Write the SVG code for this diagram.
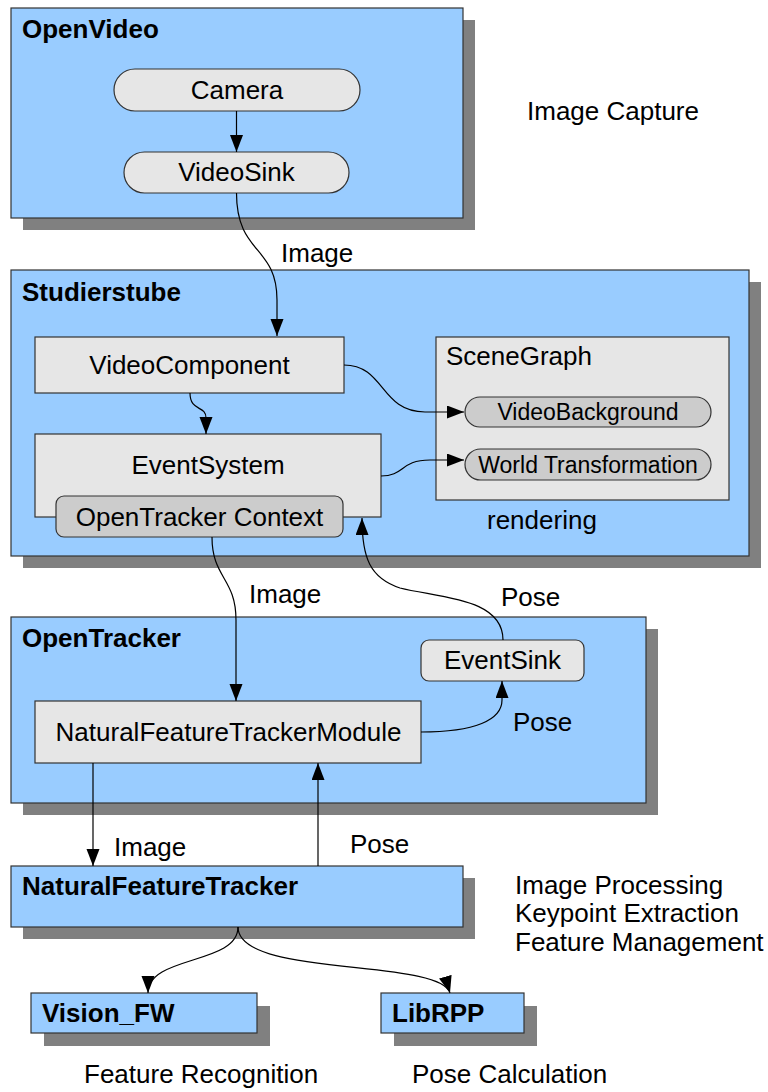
<svg xmlns="http://www.w3.org/2000/svg" width="768" height="1092" viewBox="0 0 768 1092">
<style>
.shadow{fill:#808080;}
.group{fill:#99ccff;stroke:#333333;stroke-width:1.2;}
.node{fill:#e6e6e6;stroke:#333333;stroke-width:1.2;}
.dark{fill:#cccccc;stroke:#333333;stroke-width:1.2;}
.title{font-family:"Liberation Sans",Arial,sans-serif;font-weight:bold;font-size:26px;fill:#000;}
.t{font-family:"Liberation Sans",Arial,sans-serif;font-size:26px;fill:#000;}
.tc{font-family:"Liberation Sans",Arial,sans-serif;font-size:26px;fill:#000;text-anchor:middle;}
.ts{font-family:"Liberation Sans",Arial,sans-serif;font-size:23px;fill:#000;text-anchor:middle;}
.conn{fill:none;stroke:#000;stroke-width:1.2;marker-end:url(#arrow);}
</style>
<defs>
<marker id="arrow" markerUnits="userSpaceOnUse" markerWidth="18" markerHeight="14" refX="17" refY="6.5" orient="auto">
<path d="M0,0 L17,6.5 L0,13 z" fill="#000"/>
</marker>
</defs>
<rect width="768" height="1092" fill="#ffffff"/>

<g id="OpenVideo">
<rect class="shadow" x="23" y="20" width="452" height="210"/>
<rect class="group" x="11" y="8" width="452" height="210"/>
<text class="title" x="22" y="38">OpenVideo</text>
</g>
<g id="Camera">
<rect class="node" x="114" y="69" width="246" height="42" rx="21"/>
<text class="tc" x="237" y="99">Camera</text>
</g>
<g id="VideoSink">
<rect class="node" x="124" y="152" width="225" height="41" rx="20.5"/>
<text class="tc" x="236.5" y="181">VideoSink</text>
</g>
<text class="t" x="527" y="120">Image Capture</text>

<g id="Studierstube">
<rect class="shadow" x="23" y="282" width="738" height="286"/>
<rect class="group" x="11" y="270" width="738" height="286"/>
<text class="title" x="22" y="301">Studierstube</text>
</g>
<g id="VideoComponent">
<rect class="node" x="35" y="337" width="309" height="56"/>
<text class="tc" x="189.5" y="374">VideoComponent</text>
</g>
<g id="SceneGraph">
<rect class="node" x="436" y="337" width="293" height="163"/>
<text class="t" x="446" y="365">SceneGraph</text>
</g>
<g id="VideoBackground">
<rect class="dark" x="465" y="397" width="246" height="30" rx="15"/>
<text class="ts" x="588" y="420">VideoBackground</text>
</g>
<g id="WorldTransformation">
<rect class="dark" x="465" y="449" width="246" height="31" rx="15.5"/>
<text class="ts" x="588" y="473">World Transformation</text>
</g>
<g id="EventSystem">
<rect class="node" x="35" y="434" width="346" height="83"/>
<text class="tc" x="208" y="474">EventSystem</text>
</g>
<g id="OpenTrackerContext">
<rect class="dark" x="56" y="496" width="287" height="41" rx="8"/>
<text class="tc" x="199.5" y="526">OpenTracker Context</text>
</g>
<text class="t" x="487" y="529">rendering</text>

<g id="OpenTracker">
<rect class="shadow" x="23" y="629" width="635" height="186"/>
<rect class="group" x="11" y="617" width="635" height="186"/>
<text class="title" x="22" y="647">OpenTracker</text>
</g>
<g id="EventSink">
<rect class="node" x="421" y="640" width="163" height="41" rx="8"/>
<text class="tc" x="502.5" y="669">EventSink</text>
</g>
<g id="NaturalFeatureTrackerModule">
<rect class="node" x="35" y="701" width="386" height="62"/>
<text class="tc" x="228.5" y="741">NaturalFeatureTrackerModule</text>
</g>

<g id="NaturalFeatureTracker">
<rect class="shadow" x="23" y="878" width="452" height="61"/>
<rect class="group" x="11" y="866" width="452" height="61"/>
<text class="title" x="22" y="895">NaturalFeatureTracker</text>
</g>
<text class="t" x="515" y="894">Image Processing</text>
<text class="t" x="515" y="922">Keypoint Extraction</text>
<text class="t" x="515" y="951">Feature Management</text>

<g id="Vision_FW">
<rect class="shadow" x="44" y="1006" width="226" height="40"/>
<rect class="group" x="31" y="993" width="226" height="40"/>
<text class="title" x="42" y="1022">Vision_FW</text>
</g>
<g id="LibRPP">
<rect class="shadow" x="394" y="1006" width="143" height="40"/>
<rect class="group" x="381" y="993" width="143" height="40"/>
<text class="title" x="392" y="1022">LibRPP</text>
</g>
<text class="t" x="84" y="1083">Feature Recognition</text>
<text class="t" x="412" y="1083">Pose Calculation</text>

<g id="connectors">
<path class="conn" d="M236.5,111 L236.5,152"/>
<path class="conn" d="M236.5,193 C236.5,255 277,245 277,300 L277,336"/>
<path class="conn" d="M344,365 C385,365 380,412 425,412 L464,412"/>
<path class="conn" d="M381,476 C405,476 400,460 430,460 L464,460"/>
<path class="conn" d="M190,393 C190,412 206,405 206,418 L206,434"/>
<path class="conn" d="M212,537 C212,578 236,578 236,620 L236,701"/>
<path class="conn" d="M503,640 C503,598 440,598 400,588 C370,578 362,558 362,518"/>
<path class="conn" d="M421,732 C475,732 502,720 502,700 L502,681"/>
<path class="conn" d="M93,763 L93,866"/>
<path class="conn" d="M318,866 L318,763"/>
<path class="conn" d="M238,927 C238,965 148,955 148,993"/>
<path class="conn" d="M238,927 C238,978 440,958 450,993"/>
</g>
<text class="t" x="281" y="262">Image</text>
<text class="t" x="249" y="603">Image</text>
<text class="t" x="501" y="606">Pose</text>
<text class="t" x="513" y="731">Pose</text>
<text class="t" x="114" y="856">Image</text>
<text class="t" x="350" y="853">Pose</text>
</svg>
